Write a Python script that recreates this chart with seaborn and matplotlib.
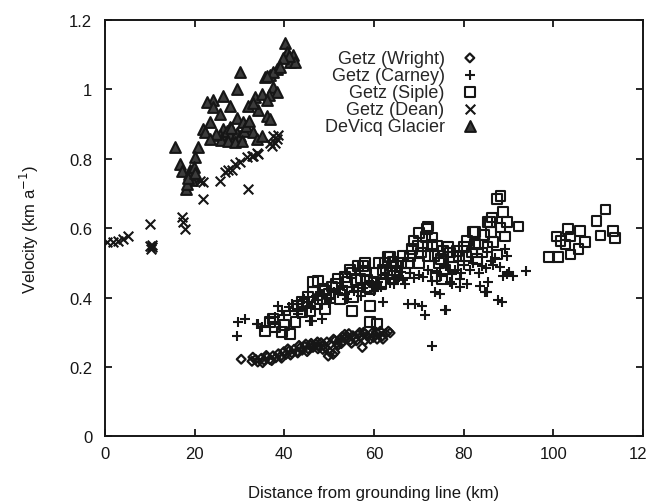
import pandas as pd
import seaborn as sns
import matplotlib.pyplot as plt

# --- values (distance km, velocity km/a) ---
wright_x = [30.4, 32.8, 33.6, 34.1, 34.9, 35.5, 36.2, 36.8, 37.5, 38.1, 38.7, 39.2, 39.9, 40.4,
            41.1, 41.7, 42.2, 42.9, 43.5, 44.0, 44.6, 45.3, 45.9, 46.4, 47.1, 47.7, 48.2, 48.8,
            49.5, 49.8, 50.3, 50.9, 51.3, 51.8, 52.4, 53.0, 53.6, 54.0, 54.7, 55.3, 55.8, 56.5,
            57.0, 57.4, 57.9, 58.5, 59.2, 59.6, 60.2, 60.7, 61.4, 62.0, 62.6, 63.2, 63.6,
            43.0, 46.0, 52.0, 55.0, 58.0, 47.5, 53.5, 50.2, 51.3,
            33.0, 35.2, 37.2, 39.4, 41.4, 43.3, 45.1, 47.4, 49.2, 51.0, 52.7, 54.4, 56.1, 57.7,
            59.9, 61.8, 36.0, 40.8, 44.8, 48.6, 52.9, 56.8, 60.5]
wright_y = [0.222, 0.216, 0.222, 0.214, 0.225, 0.219, 0.228, 0.221, 0.232, 0.226, 0.238, 0.231, 0.244, 0.236,
            0.247, 0.240, 0.251, 0.244, 0.255, 0.248, 0.259, 0.252, 0.262, 0.256, 0.266, 0.259, 0.270, 0.262,
            0.272, 0.231, 0.266, 0.236, 0.276, 0.268, 0.279, 0.272, 0.284, 0.288, 0.276, 0.290, 0.282, 0.293,
            0.286, 0.256, 0.296, 0.289, 0.280, 0.298, 0.291, 0.280, 0.303, 0.280, 0.296, 0.303, 0.298,
            0.240, 0.268, 0.262, 0.268, 0.276, 0.252, 0.294, 0.242, 0.242,
            0.228, 0.212, 0.218, 0.225, 0.234, 0.262, 0.244, 0.272, 0.255, 0.280, 0.267, 0.296, 0.275, 0.300,
            0.285, 0.288, 0.233, 0.252, 0.266, 0.250, 0.287, 0.299, 0.300]

carney_x = [29.5, 29.7, 31.3, 33.9, 34.2, 35.0, 38.6, 41.7, 41.3, 42.9, 43.1, 45.8, 46.2, 48.4,
            44.5, 47.0, 49.5, 51.0, 52.5, 53.5, 55.0, 56.5, 58.0, 59.5, 61.0, 62.0, 63.0, 64.5,
            65.5, 66.5, 67.6, 69.2, 70.8, 71.4, 73.0, 73.7, 74.8, 75.9, 76.1, 77.0, 77.5, 79.2,
            79.2, 80.8, 83.7, 84.8, 85.3, 85.5, 87.7, 88.6, 88.2, 88.8, 89.7, 90.0, 91.1, 93.8,
            89.7, 89.3, 68.0, 70.0, 72.0, 74.0, 76.0, 78.0, 80.0, 82.0, 84.0, 86.0, 87.0, 60.0,
            57.0, 54.0, 50.0, 46.0, 40.0, 36.5,
            38.0, 39.5, 41.0, 43.0, 44.0, 45.5, 47.5, 48.5, 50.5, 52.0, 53.0, 55.5, 57.5, 59.0,
            61.5, 63.5, 65.0, 67.0, 69.0, 71.0, 73.0, 75.0, 77.5, 79.5, 81.5, 83.5, 85.0, 86.5,
            62.5, 66.0]
carney_y = [0.288, 0.329, 0.337, 0.323, 0.323, 0.314, 0.375, 0.380, 0.360, 0.366, 0.352, 0.331, 0.331, 0.337,
            0.395, 0.405, 0.400, 0.415, 0.425, 0.410, 0.430, 0.420, 0.440, 0.435, 0.445, 0.386, 0.455, 0.440,
            0.460, 0.450, 0.380, 0.380, 0.375, 0.349, 0.259, 0.415, 0.409, 0.363, 0.363, 0.444, 0.438, 0.429,
            0.452, 0.438, 0.432, 0.415, 0.415, 0.444, 0.392, 0.386, 0.487, 0.461, 0.467, 0.473, 0.461, 0.476,
            0.519, 0.539, 0.470, 0.465, 0.480, 0.470, 0.490, 0.480, 0.495, 0.500, 0.490, 0.505, 0.515, 0.420,
            0.405, 0.395, 0.385, 0.370, 0.350, 0.340,
            0.345, 0.360, 0.372, 0.380, 0.372, 0.388, 0.392, 0.410, 0.398, 0.412, 0.432, 0.418, 0.428, 0.448,
            0.430, 0.442, 0.452, 0.440, 0.455, 0.458, 0.448, 0.462, 0.468, 0.472, 0.478, 0.470, 0.485, 0.495,
            0.470, 0.475]

siple_x = [35.7, 37.9, 39.5, 41.3, 36.8, 37.5, 44.0, 45.3, 47.3, 49.1, 45.8, 44.0, 46.4, 47.5,
           50.7, 48.7, 54.7, 56.5, 58.0, 54.0, 58.5, 55.4, 52.5, 59.2, 55.1, 59.2, 60.7, 57.6,
           58.5, 59.2, 63.2, 64.3, 65.2, 62.5, 63.6, 64.3, 68.8, 69.9, 71.9, 72.1, 73.0, 74.1,
           71.0, 73.0, 75.4, 77.0, 75.9, 75.2, 77.7, 77.7, 73.7, 80.8, 82.6, 83.3, 81.9, 85.3,
           85.3, 86.4, 88.8, 89.7, 92.2, 88.2, 89.3, 87.5, 87.5, 88.2, 85.9, 82.1,
           99.1, 101.1, 100.7, 101.6, 103.3, 103.8, 106.0, 107.1, 105.6, 103.8, 102.7, 109.6,
           111.6, 110.5, 113.2, 113.8,
           50.0, 52.0, 53.0, 56.0, 60.5, 61.5, 66.0, 67.0, 68.0, 70.0, 72.0, 74.5, 79.0, 80.0,
           83.0, 84.5, 86.5, 61.0, 48.0, 42.5, 40.0,
           43.0, 46.5, 49.0, 51.5, 53.5, 55.0, 57.0, 58.0, 60.0, 62.0, 63.5, 65.0, 66.5, 68.5,
           70.5, 71.5, 73.5, 75.0, 76.5, 78.5, 80.5, 82.5, 84.0, 86.0, 70.0, 67.5, 64.0]
siple_y = [0.303, 0.314, 0.300, 0.294, 0.329, 0.337, 0.386, 0.401, 0.380, 0.366, 0.360, 0.357, 0.444, 0.447,
           0.432, 0.424, 0.481, 0.490, 0.476, 0.444, 0.429, 0.401, 0.395, 0.375, 0.360, 0.329, 0.323, 0.490,
           0.452, 0.424, 0.516, 0.504, 0.476, 0.501, 0.516, 0.452, 0.562, 0.548, 0.597, 0.605, 0.573, 0.548,
           0.548, 0.553, 0.533, 0.530, 0.481, 0.452, 0.516, 0.487, 0.461, 0.562, 0.588, 0.553, 0.530, 0.545,
           0.617, 0.631, 0.646, 0.617, 0.605, 0.602, 0.576, 0.524, 0.683, 0.692, 0.617, 0.588,
           0.516, 0.516, 0.576, 0.562, 0.597, 0.576, 0.591, 0.559, 0.539, 0.524, 0.553, 0.620,
           0.654, 0.579, 0.591, 0.571,
           0.410, 0.455, 0.420, 0.450, 0.470, 0.440, 0.500, 0.470, 0.520, 0.500, 0.520, 0.500, 0.520, 0.545,
           0.510, 0.580, 0.560, 0.500, 0.395, 0.330, 0.320,
           0.375, 0.415, 0.420, 0.440, 0.460, 0.470, 0.455, 0.500, 0.445, 0.480, 0.470, 0.490, 0.520, 0.540,
           0.530, 0.575, 0.520, 0.510, 0.545, 0.535, 0.520, 0.555, 0.530, 0.590, 0.585, 0.500, 0.490]

dean_x = [0.4, 1.8, 2.9, 4.0, 5.1, 10.0, 10.0, 10.5, 10.2, 10.6, 17.2, 17.4, 17.9, 21.9, 21.9, 21.2,
          25.7, 26.8, 27.5, 29.0, 30.1, 31.7, 33.0, 34.2, 31.9, 28.3, 32.8, 33.9, 36.8, 37.5, 38.4,
          38.6, 37.9, 37.3]
dean_y = [0.559, 0.559, 0.562, 0.568, 0.576, 0.611, 0.548, 0.545, 0.540, 0.552, 0.631, 0.617, 0.597, 0.683,
          0.732, 0.735, 0.735, 0.761, 0.769, 0.784, 0.790, 0.804, 0.807, 0.813, 0.712, 0.769, 0.807, 0.818,
          0.847, 0.865, 0.856, 0.870, 0.847, 0.836]

devicq_x = [40.2, 40.6, 42.0, 41.3, 42.4, 41.0, 39.8, 38.4, 36.8, 35.7, 37.5, 39.0, 36.2, 30.1, 29.5,
            37.5, 38.4, 36.5, 24.1, 22.8, 26.3, 33.5, 35.0, 36.2, 27.9, 24.1, 31.9, 34.2, 36.2, 36.8,
            33.0, 25.7, 23.4, 21.9, 22.3, 29.5, 30.8, 27.9, 26.3, 25.7, 26.5, 27.2, 28.0, 28.8, 29.5,
            30.2, 31.0, 26.0, 27.5, 29.0, 30.5, 28.2, 31.5, 32.2, 24.8, 23.5, 33.0, 33.9, 35.0, 15.6,
            20.8, 20.1, 16.7, 19.0, 19.6, 17.2, 19.4, 18.1, 18.3, 18.8, 19.8, 18.5, 20.2]
devicq_y = [1.135, 1.107, 1.100, 1.080, 1.078, 1.095, 1.090, 1.058, 1.043, 1.035, 1.050, 1.065, 1.040, 1.049, 1.000,
            1.006, 0.994, 0.985, 0.971, 0.965, 0.980, 0.977, 0.986, 0.971, 0.951, 0.948, 0.951, 0.942, 0.922, 0.914,
            0.960, 0.928, 0.905, 0.885, 0.876, 0.919, 0.905, 0.893, 0.885, 0.870, 0.862, 0.880, 0.870, 0.858, 0.875,
            0.865, 0.880, 0.855, 0.850, 0.848, 0.852, 0.890, 0.895, 0.910, 0.872, 0.858, 0.876, 0.856, 0.865, 0.833,
            0.833, 0.804, 0.784, 0.769, 0.749, 0.764, 0.740, 0.712, 0.726, 0.755, 0.775, 0.745, 0.760]

ink = "#161616"

sns.set_style("ticks")
plt.rcParams["font.family"] = ["Liberation Sans", "DejaVu Sans"]
plt.rcParams["xtick.direction"] = "in"
plt.rcParams["ytick.direction"] = "in"

fig = plt.figure(figsize=(6.47, 5.02), dpi=100)
ax = fig.add_axes([0.162, 0.129, 0.832, 0.829])

# one scatter call per survey, styled like the old gnuplot point types
series = [
    ("Getz (Wright)", wright_x, wright_y, dict(marker="D", s=20, facecolor="none", edgecolor=ink, linewidth=1.6)),
    ("Getz (Carney)", carney_x, carney_y, dict(marker="+", s=60, color=ink, linewidth=1.5)),
    ("Getz (Siple)", siple_x, siple_y, dict(marker="s", s=50, facecolor="none", edgecolor=ink, linewidth=1.5)),
    ("Getz (Dean)", dean_x, dean_y, dict(marker="x", s=48, color=ink, linewidth=1.5)),
    ("DeVicq Glacier", devicq_x, devicq_y, dict(marker="^", s=60, facecolor="#3c3c3c", edgecolor=ink, linewidth=1.5)),
]

for name, xs, ys, style in series:
    df = pd.DataFrame({"distance": xs, "velocity": ys})
    sns.scatterplot(data=df, x="distance", y="velocity", ax=ax, label=name, **style)

ax.set_xlim(0, 120)
ax.set_ylim(0, 1.2)
ax.set_xticks([0, 20, 40, 60, 80, 100, 120])
ax.set_yticks([0, 0.2, 0.4, 0.6, 0.8, 1.0, 1.2])
ax.set_yticklabels(["0", "0.2", "0.4", "0.6", "0.8", "1", "1.2"])
ax.tick_params(top=True, right=True, length=5, width=1.3, labelsize=12, colors=ink)
ax.tick_params(axis="x", pad=7)
ax.tick_params(axis="y", pad=9)
for sp in ax.spines.values():
    sp.set_linewidth(1.4)
    sp.set_color(ink)

ax.set_xlabel("Distance from grounding line (km)", fontsize=12, labelpad=17, color=ink)
ax.set_ylabel("Velocity (km a$^{-1}$)", fontsize=12, labelpad=20, color=ink)

ax.legend(loc="upper right", bbox_to_anchor=(0.715, 0.955), frameon=False, markerfirst=False,
          fontsize=13, labelspacing=0.0, handletextpad=0.9, handlelength=1.0, borderaxespad=0.2)

fig.savefig("out.png", dpi=100)
